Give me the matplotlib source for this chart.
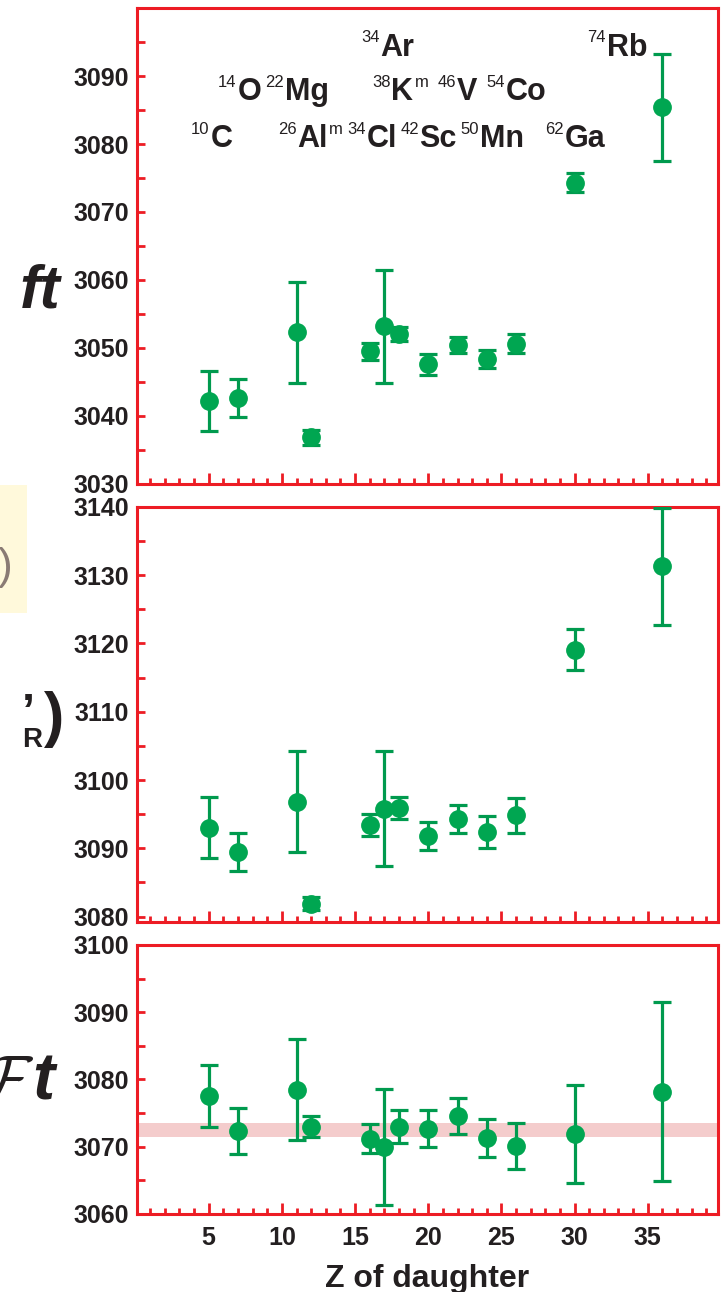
import numpy as np
import matplotlib
matplotlib.use('Agg')
import matplotlib.pyplot as plt
from matplotlib.ticker import MultipleLocator
from matplotlib.patches import Rectangle

plt.rcParams['font.family'] = ['Liberation Sans', 'DejaVu Sans']

# Z of daughter for each superallowed emitter
z_daughter = [5, 7, 11, 12, 16, 17, 18, 20, 22, 24, 26, 30, 36]

# uncorrected ft
ft_val = [3042.2, 3042.6, 3052.3, 3036.9, 3049.5, 3053.2, 3052.1, 3047.6, 3050.4, 3048.4, 3050.6, 3074.3, 3085.4]
ft_err = [4.4, 2.8, 7.4, 1.1, 1.3, 8.3, 1.0, 1.5, 1.2, 1.3, 1.4, 1.4, 7.9]

# ft(1 + delta'_R)
ftr_val = [3093.0, 3089.5, 3096.8, 3081.9, 3093.4, 3095.8, 3095.9, 3091.8, 3094.3, 3092.4, 3094.8, 3119.1, 3131.3]
ftr_err = [4.5, 2.8, 7.4, 1.0, 1.6, 8.4, 1.6, 2.0, 2.0, 2.3, 2.5, 3.0, 8.6]

# corrected Ft
Ft_val = [3077.5, 3072.3, 3078.5, 3073.0, 3071.2, 3070.0, 3073.0, 3072.7, 3074.6, 3071.3, 3070.1, 3071.9, 3078.2]
Ft_err = [4.6, 3.4, 7.5, 1.6, 2.2, 8.6, 2.5, 2.8, 2.7, 2.8, 3.4, 7.3, 13.3]

# weighted average band for Ft
Ft_band = (3071.5, 3073.5)

# nuclide labels in the top panel
lab_mass = ['34', '74', '14', '22', '38', '46', '54', '10', '26', '34', '42', '50', '62']
lab_sym = ['Ar', 'Rb', 'O', 'Mg', 'K', 'V', 'Co', 'C', 'Al', 'Cl', 'Sc', 'Mn', 'Ga']
lab_sfx = ['', '', '', '', 'm', '', '', '', 'm', '', '', '', '']
lab_x = [16.73, 32.2, 6.96, 10.19, 17.48, 21.92, 25.29, 5.11, 11.06, 15.77, 19.41, 23.51, 29.32]
lab_y = [3093.0, 3093.0, 3086.4, 3086.4, 3086.4, 3086.4, 3086.4, 3079.5, 3079.5, 3079.5, 3079.5, 3079.5, 3079.5]

red = '#ed1c24'
green = '#00a651'
dkgreen = '#009a4e'
txt = '#231f20'

fig = plt.figure(figsize=(7.23, 12.92), dpi=100)
L, R = 0.1895, 0.9931
ax1 = fig.add_axes([L, 0.6254, R - L, 0.9938 - 0.6254])
ax2 = fig.add_axes([L, 0.2864, R - L, 0.6076 - 0.2864])
ax3 = fig.add_axes([L, 0.0604, R - L, 0.2686 - 0.0604])

# axes, values, errors, y-limits, labelled y ticks
panels = [(ax1, ft_val, ft_err, (3030, 3100), np.arange(3030, 3091, 10)),
          (ax2, ftr_val, ftr_err, (3079.2, 3140), np.arange(3080, 3141, 10)),
          (ax3, Ft_val, Ft_err, (3060, 3100), np.arange(3060, 3101, 10))]

for ax, vals, errs, ylim, yt in panels:
    ax.errorbar(z_daughter, vals, yerr=errs, fmt='o', color=green, ms=12.5,
                mec=green, ecolor=dkgreen, elinewidth=2.3, capsize=6.5,
                capthick=2.3, zorder=3)
    ax.set_xlim(0.1, 39.8)
    ax.set_ylim(*ylim)
    for s in ax.spines.values():
        s.set_color(red)
        s.set_linewidth(2.2)
    ax.xaxis.set_minor_locator(MultipleLocator(1))
    ax.yaxis.set_minor_locator(MultipleLocator(5))
    ax.tick_params(axis='both', which='both', direction='in', color=red,
                   width=2, top=False, right=False)
    ax.tick_params(axis='x', which='major', length=8, pad=9)
    ax.tick_params(axis='x', which='minor', length=4)
    ax.tick_params(axis='y', which='both', length=6, pad=6)
    ax.tick_params(axis='both', labelsize=18, labelcolor=txt)
    ax.set_yticks(yt)
    ax.set_yticklabels(['%d' % v for v in yt], fontweight='bold')
    ax.set_xticks([5, 10, 15, 20, 25, 30, 35])
    ax.set_xticklabels([])

ax3.set_xticklabels(['5', '10', '15', '20', '25', '30', '35'], fontweight='bold')
ax3.axhspan(Ft_band[0], Ft_band[1], color='#f4cccc', lw=0, zorder=1)
ax3.set_xlabel('Z of daughter', fontsize=23, fontweight='bold', color=txt, labelpad=10)

# nuclide labels
for m, s, sf, x, y in zip(lab_mass, lab_sym, lab_sfx, lab_x, lab_y):
    t = ax1.text(x, y, s, fontsize=22, fontweight='bold', color=txt,
                 ha='left', va='baseline')
    ax1.annotate(m, xy=(x, y), xycoords='data', fontsize=12, color=txt,
                 ha='right', va='baseline', xytext=(-0.5, 10),
                 textcoords='offset points')
    if sf:
        ax1.annotate(sf, xy=(1, y), xycoords=(t, 'data'), fontsize=12,
                     color=txt, ha='left', va='baseline', xytext=(1, 10),
                     textcoords='offset points')

# cut-off slide fragments on the left
fig.text(0.027, 1 - 307 / 1292, 'ft', fontsize=44, fontweight='bold',
         style='italic', color=txt, ha='left', va='baseline')
fig.patches.append(Rectangle((0, 1 - 613 / 1292), 27 / 723, 128 / 1292,
                             transform=fig.transFigure, color='#fff9db', lw=0))
fig.text(12 / 723, 1 - 568 / 1292, ')', fontsize=32, color='#8a7b74',
         ha='right', va='center')
fig.text(22 / 723, 1 - 747 / 1292, 'R', fontsize=20, fontweight='bold',
         color=txt, ha='left', va='baseline')
fig.text(22 / 723, 1 - 692 / 1292, '\u2019', fontsize=34, fontweight='bold',
         color=txt, ha='left', va='top')
fig.text(64 / 723, 1 - 719 / 1292, ')', fontsize=44, fontweight='bold',
         color=txt, ha='right', va='center')
fig.text(32 / 723, 1 - 1100 / 1292, 't', fontsize=48, fontweight='bold',
         style='italic', color=txt, ha='left', va='baseline')
fig.text(34 / 723, 1 - 1100 / 1292, r'$\mathcal{F}$', fontsize=46,
         math_fontfamily='cm', color=txt, ha='right', va='baseline')

fig.savefig('out.png', dpi=100)
